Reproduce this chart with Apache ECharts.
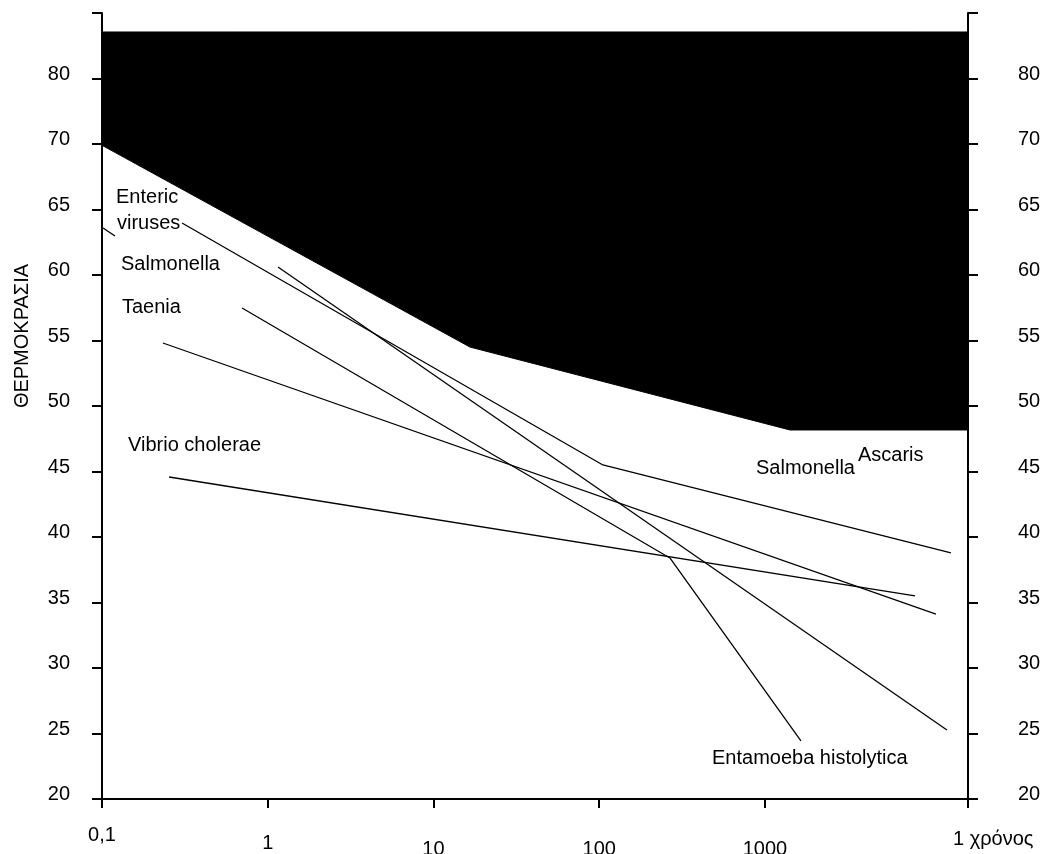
<!DOCTYPE html>
<html>
<head>
<meta charset="utf-8">
<script src="https://cdn.jsdelivr.net/npm/echarts@6/dist/echarts.min.js"></script>
<style>
html,body{margin:0;padding:0;background:#fff;}
#chart{width:1045px;height:854px;}
</style>
</head>
<body>
<div id="chart"></div>
<script>
// ---- data ----
const xTickValues = [0.1, 1, 10, 100, 1000];
const xTickLabels = ['0,1', '1', '10', '100', '1000'];
const xMin = 0.1;
const xMax = 16800;
const xEndLabel = '1 χρόνος';
const yTickLabels = ['20','25','30','35','40','45','50','55','60','65','70','80',''];
const yName = 'ΘΕΡΜΟΚΡΑΣΙΑ';

// black "unsafe" zone: lower edge and top level
const blackEdgeX = [0.1, 16.6, 1416, 16800];
const blackEdgeY = [69.9, 54.5, 48.17, 48.17];
const blackTop = 78.55;

const entericLine    = [[0.304, 63.97], [105.3, 45.50], [13250, 38.78]];
const salmonellaLine = [[1.153, 60.61], [12540, 25.27]];
const entamoebaLead  = [[0.1014, 63.59], [0.1198, 62.98]];
const entamoebaLine  = [[0.700, 57.48], [267, 38.40], [1649, 24.43]];
const taeniaLine     = [[0.233, 54.81], [10760, 34.12]];
const vibrioLine     = [[0.254, 44.58], [8040, 35.50]];

const labels = [
  {text: 'Enteric', x: 116, y: 197},
  {text: 'viruses', x: 117, y: 223},
  {text: 'Salmonella', x: 121, y: 264},
  {text: 'Taenia', x: 122, y: 307},
  {text: 'Vibrio cholerae', x: 128, y: 445},
  {text: 'Salmonella', x: 756, y: 468},
  {text: 'Ascaris', x: 858, y: 455},
  {text: 'Entamoeba histolytica', x: 712, y: 758}
];

// ---- chart ----
const FONT = '"Liberation Sans", Arial, sans-serif';
const chart = echarts.init(document.getElementById('chart'));

const lineStyle = {color: '#000', width: 1.3};
function lineSeries(name, data) {
  return {
    name, type: 'line', data, symbol: 'none', silent: true,
    lineStyle, z: 5, animation: false
  };
}

const yAxisCommon = {
  type: 'value', min: 20, max: 80, interval: 5,
  splitLine: {show: false},
  axisLine: {show: true, lineStyle: {color: '#000', width: 2}},
  axisTick: {show: true, length: 10, lineStyle: {color: '#000', width: 2}},
  axisLabel: {
    formatter: v => '{a|' + yTickLabels[Math.round((v - 20) / 5)] + '}',
    rich: {a: {color: '#000', fontFamily: FONT, fontSize: 20, padding: [0, 0, 9, 0]}}
  }
};

const xStyles = {
  p0: {padding: [24, 0, 0, 0], fontSize: 20, fontFamily: FONT, color: '#000'},
  p1: {padding: [32, 0, 0, 0], fontSize: 20, fontFamily: FONT, color: '#000'},
  p2: {padding: [38, 0, 0, 0], fontSize: 20, fontFamily: FONT, color: '#000'}
};

chart.setOption({
  animation: false,
  backgroundColor: '#fff',
  grid: {left: 102, right: 77, top: 13, bottom: 55, containLabel: false, outerBoundsMode: 'none'},
  xAxis: {
    type: 'log', logBase: 10, min: xMin, max: xMax,
    splitLine: {show: false},
    axisLine: {show: true, lineStyle: {color: '#000', width: 2}},
    axisTick: {show: true, length: 9, lineStyle: {color: '#000', width: 2},
               customValues: xTickValues.concat([xMax])},
    axisLabel: {
      customValues: xTickValues,
      margin: 2,
      verticalAlign: 'top',
      formatter: v => {
        let i = -1;
        xTickValues.forEach((t, k) => { if (Math.abs(Math.log10(t) - Math.log10(v)) < 1e-6) i = k; });
        if (i < 0) return '';
        const key = i === 0 ? 'p0' : (i === 1 ? 'p1' : 'p2');
        return '{' + key + '|' + xTickLabels[i] + '}';
      },
      rich: xStyles
    },
    name: xEndLabel,
    nameLocation: 'end',
    nameGap: -15,
    nameTextStyle: {color: '#000', fontFamily: FONT, fontSize: 20,
                    align: 'left', verticalAlign: 'top', padding: [30, 0, 0, 0]}
  },
  yAxis: [
    Object.assign({}, yAxisCommon, {position: 'left',
      axisLabel: Object.assign({}, yAxisCommon.axisLabel, {margin: 32})}),
    Object.assign({}, yAxisCommon, {position: 'right',
      axisLabel: Object.assign({}, yAxisCommon.axisLabel, {margin: 50})})
  ],
  series: [
    {
      name: 'zone', type: 'custom', silent: true, z: 1,
      data: [[blackEdgeX[0], blackTop]],
      renderItem: (params, api) => {
        const pts = [api.coord([blackEdgeX[0], blackTop])];
        blackEdgeX.forEach((x, i) => pts.push(api.coord([x, blackEdgeY[i]])));
        pts.push(api.coord([blackEdgeX[blackEdgeX.length - 1], blackTop]));
        return {type: 'polygon', shape: {points: pts}, style: {fill: '#000', stroke: '#000', lineWidth: 1}};
      }
    },
    lineSeries('Enteric viruses', entericLine),
    lineSeries('Salmonella', salmonellaLine),
    lineSeries('Entamoeba lead', entamoebaLead),
    lineSeries('Entamoeba histolytica', entamoebaLine),
    lineSeries('Taenia', taeniaLine),
    lineSeries('Vibrio cholerae', vibrioLine)
  ],
  graphic: labels.map(l => ({
    type: 'text', x: l.x, y: l.y, z: 50, silent: true,
    style: {text: l.text, fill: '#000', font: '20px ' + FONT, align: 'left', verticalAlign: 'middle'}
  })).concat([{
    type: 'text', x: 22, y: 336, rotation: Math.PI / 2, z: 50, silent: true,
    style: {text: yName, fill: '#000', font: '20px ' + FONT, align: 'center', verticalAlign: 'middle'}
  }])
});
</script>
</body>
</html>
